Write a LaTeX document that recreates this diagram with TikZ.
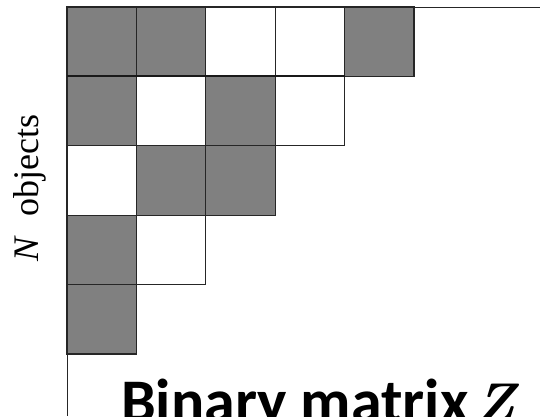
\documentclass[tikz,border=0pt]{standalone}
\usepackage{fontspec}
\setmainfont{Liberation Serif}
\newfontfamily\labelfont{Carlito}
\newfontfamily\zfont{Latin Modern Roman}
\tikzset{
  cell/.style={draw=black!85, line width=1.1pt, minimum size=69.4pt, inner sep=0pt, outer sep=0pt, anchor=north west},
  on/.style={cell, fill=black!50},
  off/.style={cell, fill=white},
  axis/.style={draw=black!85, line width=1pt},
}
\begin{document}
\begin{tikzpicture}[x=1pt,y=-1pt]
\useasboundingbox (0,0) rectangle (540,416);
\coordinate (O) at (67,7);
\coordinate (xend) at (540,7);
\coordinate (yend) at (67,416);
\draw[axis] (xend) -- (O) -- (yend);
% row 1
\node[on]  (c11) at (67,7) {};
\node[on]  (c12) at (136.4,7) {};
\node[off] (c13) at (205.8,7) {};
\node[off] (c14) at (275.2,7) {};
\node[on]  (c15) at (344.6,7) {};
% row 2
\node[on]  (c21) at (67,76.4) {};
\node[off] (c22) at (136.4,76.4) {};
\node[on]  (c23) at (205.8,76.4) {};
\node[off] (c24) at (275.2,76.4) {};
% row 3
\node[off] (c31) at (67,145.8) {};
\node[on]  (c32) at (136.4,145.8) {};
\node[on]  (c33) at (205.8,145.8) {};
% row 4
\node[on]  (c41) at (67,215.2) {};
\node[off] (c42) at (136.4,215.2) {};
% row 5
\node[on]  (c51) at (67,284.6) {};
% thicker line under row 1
\draw[line width=2pt, black!90] (c11.south west) -- (c14.south east);
% labels
\node[rotate=90, anchor=base, inner sep=0pt, font=\fontsize{36}{40}\selectfont] (ylab) at (38,188) {\textit{N}\hspace{20pt}objects};
\node[anchor=base west, inner sep=0pt, font=\labelfont\bfseries\fontsize{62}{68}\selectfont] (title) at (121,422) {Binary matrix\hspace{7pt}{\zfont\bfseries\itshape\fontsize{56}{62}\selectfont Z}};
\end{tikzpicture}
\end{document}
